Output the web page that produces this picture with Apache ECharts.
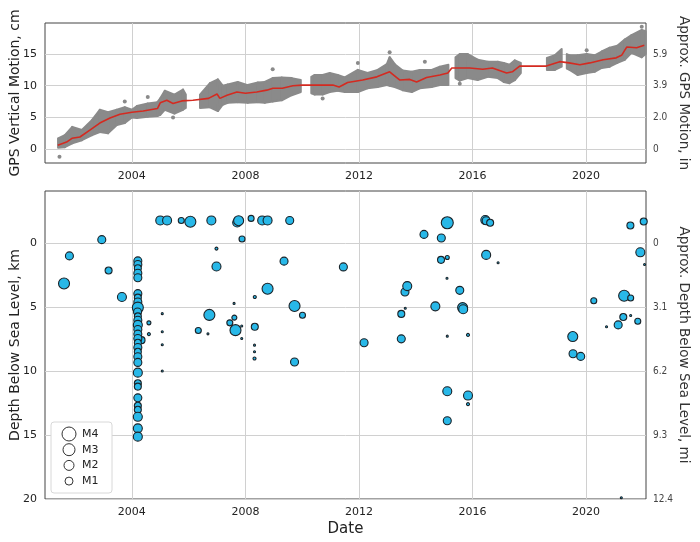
<!DOCTYPE html>
<html>
<head>
<meta charset="utf-8">
<script src="https://cdn.jsdelivr.net/npm/echarts@6/dist/echarts.min.js"></script>
<style>html,body{margin:0;padding:0;background:#fff}#chart{width:700px;height:542px}</style>
</head>
<body>
<div id="chart"></div>
<script>
// ---------- GPS data (top panel) ----------
// envelope of the daily GPS points (cm); null = data gap
var envYears = [2001.40,2001.64,2001.90,2002.24,2002.60,2002.87,2003.16,2003.47,2003.75,2004.00,2004.18,2004.56,2004.90,2005.00,2005.16,2005.50,2005.80,2005.90,2006.15,2006.40,2006.75,2007.03,2007.20,2007.38,2007.73,2008.08,2008.44,2008.68,2008.96,2009.28,2009.63,2009.95,2010.15,2010.32,2010.44,2010.72,2010.97,2011.25,2011.50,2011.96,2012.30,2012.66,2012.98,2013.08,2013.26,2013.54,2013.86,2014.14,2014.56,2014.85,2015.15,2015.28,2015.40,2015.55,2015.83,2016.18,2016.54,2016.89,2017.10,2017.30,2017.49,2017.70,2018.10,2018.62,2018.90,2019.14,2019.22,2019.32,2019.42,2019.70,2020.02,2020.30,2020.55,2020.83,2021.10,2021.36,2021.60,2021.96,2022.10];
var envLower = [0.2,0.3,0.9,1.4,2.2,2.7,2.5,3.8,4.1,5.0,4.9,5.1,5.2,5.4,6.2,5.6,6.2,6.5,null,6.5,6.6,6.0,7.0,7.3,7.4,7.3,7.4,7.3,7.5,7.7,8.5,9.0,null,8.8,8.6,8.6,9.0,9.2,9.0,9.0,9.6,9.8,10.1,10.0,9.8,9.3,9.0,9.6,9.8,10.1,10.1,null,11.2,10.8,11.2,10.9,11.4,11.2,10.6,10.4,10.9,12.0,null,12.5,12.5,13.0,null,12.7,12.5,11.7,12.0,12.2,12.8,13.0,13.6,14.1,15.2,14.5,15.0];
var envUpper = [1.7,2.2,3.5,3.0,4.6,6.2,5.8,6.2,6.6,6.2,6.8,7.2,7.4,8.0,9.2,8.6,9.4,8.6,null,8.6,10.4,11.0,10.0,10.2,10.6,10.1,10.5,10.6,11.2,11.3,11.2,10.9,null,11.4,11.7,11.7,12.0,11.7,11.3,12.5,12.0,12.5,13.4,14.5,13.4,12.4,12.2,12.5,12.5,13.0,13.3,null,14.5,15.0,15.0,14.1,13.8,13.8,13.6,13.3,14.0,13.6,null,14.4,14.8,15.8,null,15.0,14.8,14.8,15.0,14.8,15.4,16.0,16.3,17.3,18.0,18.8,18.6];
// isolated GPS points outside the main cloud
var outlierYears = [2001.45,2003.75,2004.56,2005.45,2008.96,2010.72,2011.96,2013.08,2014.32,2015.55,2020.02,2021.96];
var outlierValues = [-1.2,7.5,8.2,5.0,12.6,8.0,13.6,15.3,13.8,10.3,15.6,19.3];
// smoothed trend (red line)
var trendYears = [2001.39,2001.70,2001.89,2002.17,2002.52,2002.87,2003.23,2003.58,2004.00,2004.40,2004.90,2005.00,2005.23,2005.45,2005.76,2006.15,2006.70,2007.00,2007.10,2007.35,2007.70,2008.00,2008.40,2008.75,2008.97,2009.30,2009.67,2010.00,2010.37,2011.08,2011.30,2011.60,2012.13,2012.63,2013.08,2013.44,2013.79,2014.03,2014.38,2014.85,2015.13,2015.27,2015.90,2016.36,2016.70,2017.20,2017.40,2017.66,2018.60,2019.07,2019.40,2019.78,2020.13,2020.60,2021.06,2021.25,2021.43,2021.78,2022.05];
var trendValues = [0.6,1.1,1.7,1.9,3.0,4.1,4.9,5.5,5.8,6.0,6.4,7.3,7.7,7.2,7.6,7.7,8.0,8.7,8.0,8.5,9.0,8.8,9.0,9.3,9.6,9.6,10.0,10.1,10.1,10.1,9.8,10.5,10.9,11.4,12.2,10.9,11.0,10.6,11.3,11.7,12.0,12.8,12.8,12.6,12.8,12.0,12.2,13.1,13.1,13.8,13.6,13.3,13.6,14.1,14.4,14.8,16.1,16.0,16.4];

// ---------- Earthquakes (bottom panel) ----------
var quakeYears = [2001.61,2001.80,2002.94,2003.18,2003.65,
 2004.21,2004.21,2004.21,2004.21,2004.21,2004.21,2004.21,2004.21,2004.21,2004.20,2004.21,2004.21,2004.21,2004.21,2004.21,2004.34,2004.21,2004.21,2004.21,2004.21,2004.21,2004.21,2004.21,2004.21,2004.21,2004.21,2004.21,2004.21,2004.21,2004.21,2004.21,
 2004.60,2004.60,2005.07,2005.07,2005.07,2005.07,
 2005.00,2005.24,2005.74,2006.06,2006.80,2007.71,2007.76,2008.20,2008.59,2008.78,2009.56,
 2007.88,2006.98,2006.98,2009.36,2011.45,2008.78,2008.33,2007.60,2009.73,2010.01,2006.73,2007.61,2007.45,2007.87,2007.65,2008.33,2006.34,2006.68,2007.87,2008.32,2008.32,2008.32,2009.73,
 2012.18,2013.49,2013.49,2013.62,2013.70,2013.63,2014.29,2014.69,2014.90,2015.11,2014.89,2015.11,2015.10,2015.55,2015.65,2015.67,2015.11,2015.84,2015.11,2015.84,2015.84,2015.11,
 2016.45,2016.48,2016.62,2016.48,2016.90,2019.53,2019.54,2019.81,2020.27,2020.72,2021.13,2021.31,2021.57,2021.82,2021.34,2021.57,2021.56,2022.03,2021.91,2022.06,2021.24];
var quakeDepths = [3.16,1.01,-0.26,2.15,4.22,
 1.40,1.68,1.97,2.36,2.72,3.96,4.27,4.61,5.05,5.39,5.73,6.04,6.40,6.76,7.12,7.59,7.46,7.80,8.16,8.50,8.89,9.33,10.13,10.96,11.22,12.10,12.72,13.03,13.58,14.48,15.13,
 6.24,7.12,5.52,6.94,7.95,10.0,
 -1.76,-1.76,-1.76,-1.66,-1.76,-1.60,-1.74,-1.92,-1.76,-1.76,-1.76,
 -0.31,0.44,1.84,1.42,1.87,3.58,4.22,4.72,4.92,5.65,5.62,5.83,6.24,6.48,6.81,6.55,6.84,7.10,7.46,7.98,8.50,9.02,9.30,
 7.80,5.54,7.49,3.83,3.37,5.10,-0.67,4.95,-0.39,-1.58,1.32,1.14,2.75,3.70,5.05,5.18,7.28,7.18,11.58,11.92,12.59,13.89,
 -1.79,-1.74,-1.58,0.93,1.55,7.31,8.65,8.86,4.51,6.55,6.40,5.78,5.67,6.11,4.12,4.30,-1.37,-1.68,0.73,1.68,19.9];
var quakeMags = [2.5,1.0,1.0,0.5,1.5,
 1.0,1.0,0.5,1.0,1.0,1.0,0.5,1.0,2.5,1.0,0.5,1.0,1.5,1.0,1.0,0.5,1.0,0.5,1.0,0.5,1.0,1.0,1.5,0.5,0.5,1.0,0.5,0.5,1.5,1.5,1.5,
 -1.0,-1.5,-2,-2,-2,-2,
 1.5,1.5,0.0,2.5,1.5,1.5,2.0,0.0,1.5,1.5,1.0,
 0.0,-1.5,1.5,1.0,1.0,2.5,-1.5,-2,2.5,0.0,2.5,-0.5,0.0,-2,2.5,0.5,0.0,-2,-2,-2,-2,-1.5,1.0,
 1.0,0.5,1.0,1.0,1.5,-2,1.0,1.5,1.0,3.0,0.5,-1.0,-2,1.0,2.0,1.5,-2,-1.5,1.5,1.5,-1.5,1.0,
 1.5,1.0,0.5,1.5,-2,2.0,1.0,1.0,0.0,-2,1.0,0.5,-2,0.0,2.5,0.0,0.5,0.5,1.5,-2,-2];
var legendMags = [4, 3, 2, 1];
var legendLabels = ['M4', 'M3', 'M2', 'M1'];

// ---------- axes ticks ----------
var yearTicks = [2004, 2008, 2012, 2016, 2020];
var gpsTicks = [0, 5, 10, 15];
var depthTicks = [0, 5, 10, 15, 20];

// ---------- build ----------
function sizeFor(m) { return Math.max(2, 6 + 2 * m); }

var bandSegs = [];
for (var i = 0; i < envYears.length - 1; i++) {
  if (envLower[i] == null || envLower[i + 1] == null) continue;
  bandSegs.push([envYears[i], envLower[i], envUpper[i], envYears[i + 1], envLower[i + 1], envUpper[i + 1]]);
}
var outliers = outlierYears.map(function (x, i) { return [x, outlierValues[i]]; });
var trend = trendYears.map(function (x, i) { return [x, trendValues[i]]; });
var quakes = quakeYears.map(function (x, i) { return [x, quakeDepths[i], quakeMags[i]]; });

var FONT = "'DejaVu Sans', sans-serif";
var RFONT = "'DejaVu Sans Condensed', 'Liberation Sans Narrow', 'DejaVu Sans', sans-serif";
var gridLine = { show: true, lineStyle: { color: '#d0d0d0', width: 1 } };

function xAxisFor(gi, name) {
  return {
    type: 'value', gridIndex: gi, min: 2000.94, max: 2022.11,
    axisLine: { show: false }, axisTick: { show: false, customValues: yearTicks },
    axisLabel: { customValues: yearTicks, fontFamily: FONT, fontSize: 11, color: '#222', margin: 8,
      formatter: function (v) { return String(Math.round(v)); } },
    splitLine: gridLine,
    name: name || '', nameLocation: 'middle', nameGap: 23, nameMoveOverlap: false,
    nameTextStyle: { fontFamily: FONT, fontSize: 15, color: '#222' }
  };
}

var chart = echarts.init(document.getElementById('chart'), null, { renderer: 'canvas' });
var legendGraphics = [{
  type: 'rect', shape: { x: 51, y: 422, width: 61, height: 71, r: 3 },
  style: { fill: '#fff', stroke: '#d8d8d8', lineWidth: 1 }, z: 100
}];
legendMags.forEach(function (m, i) {
  var cy = 434 + i * 15.7;
  legendGraphics.push({ type: 'circle', shape: { cx: 69, cy: cy, r: sizeFor(m) / 2 }, style: { fill: 'none', stroke: '#333', lineWidth: 1 }, z: 101 });
  legendGraphics.push({ type: 'text', x: 82, y: cy, style: { text: legendLabels[i], fontFamily: FONT, fontSize: 11, fill: '#222', verticalAlign: 'middle', align: 'left' }, z: 101 });
});

chart.setOption({
  animation: false,
  backgroundColor: '#fff',
  grid: [
    { left: 45, right: 54, top: 23, height: 140, containLabel: false, outerBoundsMode: 'none',
      show: true, borderColor: '#444', borderWidth: 1, backgroundColor: 'transparent' },
    { left: 45, right: 54, top: 191, height: 308, containLabel: false, outerBoundsMode: 'none',
      show: true, borderColor: '#444', borderWidth: 1, backgroundColor: 'transparent' }
  ],
  xAxis: [xAxisFor(0), xAxisFor(1, 'Date')],
  yAxis: [
    { type: 'value', gridIndex: 0, position: 'left', min: -2.2, max: 19.9,
      axisLine: { show: false }, axisTick: { show: false, customValues: gpsTicks },
      axisLabel: { customValues: gpsTicks, fontFamily: FONT, fontSize: 11, color: '#222', margin: 8 },
      splitLine: gridLine,
      name: 'GPS Vertical Motion, cm', nameLocation: 'middle', nameGap: 23, nameMoveOverlap: false,
      nameTextStyle: { fontFamily: FONT, fontSize: 14, color: '#222' } },
    { type: 'value', gridIndex: 0, position: 'right', min: -2.2, max: 19.9,
      axisLine: { show: false }, axisTick: { show: false, customValues: gpsTicks },
      axisLabel: { customValues: gpsTicks, fontFamily: RFONT, fontSize: 10, color: '#444', margin: 7,
        formatter: function (v) { return v === 0 ? '0' : (v / 2.54).toFixed(1); } },
      splitLine: { show: false },
      name: 'Approx. GPS Motion, in', nameLocation: 'middle', nameGap: 30, nameRotate: -90, nameMoveOverlap: false,
      nameTextStyle: { fontFamily: FONT, fontSize: 13.5, color: '#333' } },
    { type: 'value', gridIndex: 1, position: 'left', inverse: true, min: -4.06, max: 20,
      axisLine: { show: false }, axisTick: { show: false, customValues: depthTicks },
      axisLabel: { customValues: depthTicks, fontFamily: FONT, fontSize: 11, color: '#222', margin: 8 },
      splitLine: gridLine,
      name: 'Depth Below Sea Level, km', nameLocation: 'middle', nameGap: 23, nameMoveOverlap: false,
      nameTextStyle: { fontFamily: FONT, fontSize: 14, color: '#222' } },
    { type: 'value', gridIndex: 1, position: 'right', inverse: true, min: -4.06, max: 20,
      axisLine: { show: false }, axisTick: { show: false, customValues: depthTicks },
      axisLabel: { customValues: depthTicks, fontFamily: RFONT, fontSize: 10, color: '#444', margin: 7,
        formatter: function (v) { return v === 0 ? '0' : (v / 1.609344).toFixed(1); } },
      splitLine: { show: false },
      name: 'Approx. Depth Below Sea Level, mi', nameLocation: 'middle', nameGap: 30, nameRotate: -90, nameMoveOverlap: false,
      nameTextStyle: { fontFamily: FONT, fontSize: 13.5, color: '#333' } }
  ],
  series: [
    { type: 'custom', xAxisIndex: 0, yAxisIndex: 0, data: bandSegs,
      dimensions: ['x0', 'lo0', 'hi0', 'x1', 'lo1', 'hi1'],
      encode: { x: [0, 3], y: [1, 2, 4, 5] }, silent: true, z: 2,
      renderItem: function (params, api) {
        var pts = [
          api.coord([api.value(0), api.value(1)]),
          api.coord([api.value(3), api.value(4)]),
          api.coord([api.value(3), api.value(5)]),
          api.coord([api.value(0), api.value(2)])
        ];
        return { type: 'polygon', shape: { points: pts },
          style: { fill: '#8a8a8a', stroke: '#8a8a8a', lineWidth: 2, lineJoin: 'round', opacity: 1 } };
      } },
    { type: 'scatter', xAxisIndex: 0, yAxisIndex: 0, data: outliers, symbolSize: 4,
      itemStyle: { color: '#8a8a8a', opacity: 1 }, silent: true, z: 2 },
    { type: 'line', xAxisIndex: 0, yAxisIndex: 0, data: trend, showSymbol: false, symbol: 'none',
      lineStyle: { color: '#d42a20', width: 1.6 }, silent: true, z: 3 },
    { type: 'scatter', xAxisIndex: 1, yAxisIndex: 2, data: quakes,
      symbolSize: function (v) { return sizeFor(v[2]); },
      itemStyle: { color: '#28b8e8', borderColor: '#1a2228', borderWidth: 1.1, opacity: 1 },
      silent: true, z: 3 }
  ],
  graphic: legendGraphics
});
</script>
</body>
</html>
